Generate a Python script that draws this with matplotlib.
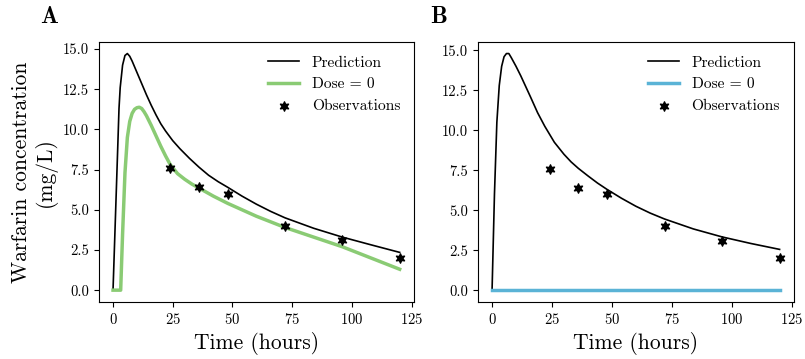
import numpy as np
import matplotlib
matplotlib.use('Agg')
import matplotlib.pyplot as plt

plt.rcParams['font.family'] = 'serif'
plt.rcParams['font.serif'] = ['cmr10']
plt.rcParams['mathtext.fontset'] = 'cm'
plt.rcParams['axes.formatter.use_mathtext'] = True

# %% data

# panel A
t_pred_a = [0, 1, 2, 2.5, 3, 4, 5, 6, 7, 8, 9, 10, 11, 12, 13, 14, 16, 18, 20, 22,
            25, 28, 32, 36, 40, 44, 48, 54, 60, 66, 72, 84, 96, 108, 120]
c_pred_a = [0, 4.5, 9.0, 11.3, 12.6, 14.0, 14.6, 14.72, 14.55, 14.25, 13.9, 13.55,
            13.2, 12.85, 12.5, 12.15, 11.5, 10.9, 10.35, 9.9, 9.3, 8.8, 8.2, 7.65,
            7.15, 6.75, 6.4, 5.85, 5.35, 4.9, 4.5, 3.85, 3.3, 2.82, 2.35]

t_dose0_a = [0, 3.2, 4, 5, 6, 7, 8, 9, 10, 11, 12, 13, 14, 16, 18, 20, 22, 24, 27,
             30, 33, 36, 42, 48, 54, 60, 66, 72, 84, 96, 108, 120]
c_dose0_a = [0, 0, 3.5, 7.3, 9.5, 10.5, 11.0, 11.25, 11.35, 11.38, 11.3, 11.1, 10.85,
             10.25, 9.6, 8.95, 8.35, 7.8, 7.25, 6.9, 6.6, 6.35, 5.85, 5.4, 5.0, 4.6,
             4.25, 3.9, 3.3, 2.7, 2.0, 1.3]

# panel B
t_pred_b = [0, 1, 2, 3, 4, 5, 6, 7, 8, 10, 12, 14, 16, 19, 22, 26, 30, 33, 36, 40,
            44, 48, 54, 60, 66, 72, 84, 96, 108, 120]
c_pred_b = [0, 6.0, 10.5, 12.8, 14.0, 14.6, 14.8, 14.8, 14.55, 14.0, 13.4, 12.75,
            12.1, 11.1, 10.25, 9.25, 8.5, 8.02, 7.62, 7.15, 6.7, 6.3, 5.75, 5.25,
            4.82, 4.45, 3.83, 3.33, 2.92, 2.55]

t_dose0_b = [0, 120]
c_dose0_b = [0, 0]

# observations (same in both panels)
t_obs = [24, 36, 48, 72, 96, 120]
c_obs = [7.6, 6.4, 6.0, 4.0, 3.1, 2.0]

# %% plot

fig = plt.figure(figsize=(8.05, 3.59), dpi=100)
axA = fig.add_axes([0.1226, 0.1588, 0.3917, 0.725])
axB = fig.add_axes([0.5934, 0.1588, 0.3929, 0.725])

panels = [
    (axA, t_pred_a, c_pred_a, t_dose0_a, c_dose0_a, '#8acb74', 'A', -0.186),
    (axB, t_pred_b, c_pred_b, t_dose0_b, c_dose0_b, '#5ab3d6', 'B', -0.15),
]

for ax, tp, cp, td, cd, col, letter, xoff in panels:
    ax.plot(tp, cp, color='black', lw=1.2, label='Prediction')
    ax.plot(td, cd, color=col, lw=2.5, label='Dose = 0')
    ax.scatter(t_obs, c_obs, marker=(6, 1, 0), s=45, color='black', zorder=3,
               label='Observations')
    ax.set_xlabel('Time (hours)', fontsize=15.5)
    ax.set_xticks([0, 25, 50, 75, 100, 125])
    ax.set_yticks([0, 2.5, 5, 7.5, 10, 12.5, 15])
    ax.set_yticklabels(['0.0', '2.5', '5.0', '7.5', '10.0', '12.5', '15.0'])
    ax.tick_params(labelsize=10.5)
    ax.legend(loc='upper right', frameon=False, fontsize=11.2)
    ax.text(xoff, 1.07, r'$\mathbf{%s}$' % letter,
            transform=ax.transAxes, fontsize=17)

axA.set_ylabel('Warfarin concentration\n(mg/L)', fontsize=15.5)

fig.savefig('out.png', dpi=100)
